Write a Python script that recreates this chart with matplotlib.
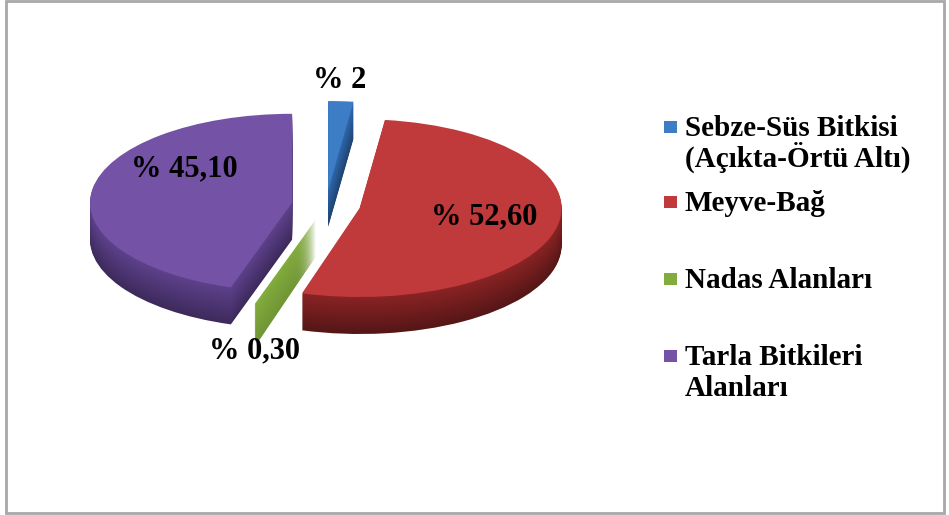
import numpy as np
import matplotlib
matplotlib.use('Agg')
import matplotlib.pyplot as plt
from matplotlib.patches import Rectangle
import matplotlib.colors as mcolors

# ---- data ----
categories = ['Sebze-Süs Bitkisi\n(Açıkta-Örtü Altı)', 'Meyve-Bağ',
              'Nadas Alanları', 'Tarla Bitkileri\nAlanları']
values = [2.0, 52.6, 0.3, 45.1]
value_labels = ['% 2', '% 52,60', '% 0,30', '% 45,10']

# ---- style ----
top_colors = ['#3D7DC6', '#C0393B', '#82AC3E', '#7452A5']
side_colors = ['#2F68AE', '#8A2324', '#80AA3C', '#5E418C']
side_dark = [0.35, 0.38, 0.12, 0.35]
FONT = ['Liberation Serif', 'DejaVu Serif']

W, H = 949, 515
fig = plt.figure(figsize=(W / 100, H / 100), dpi=100)
fig.patch.set_facecolor('white')

ax = fig.add_axes([0, 0, 1, 1])
k = 0.44            # tilt (vertical squash)
cx, cy_img = 326, 205
R = 202
explode = [0.17 * R] * len(values)   # pie explode is in data units
depth = 37


def shade(c, f):
    r, g, b = mcolors.to_rgb(c)
    return (r * f, g * f, b * f)


for d in range(depth, 0, -1):
    frac = d / depth
    cols = [shade(c, 1.0 - s * frac) for c, s in zip(side_colors, side_dark)]
    ax.pie(values, radius=R, center=(cx, (H - cy_img - d) / k),
           explode=explode, colors=cols, startangle=90, counterclock=False,
           wedgeprops=dict(linewidth=0), frame=False)

ax.pie(values, radius=R, center=(cx, (H - cy_img) / k),
       explode=explode, colors=top_colors, startangle=90, counterclock=False,
       wedgeprops=dict(linewidth=0), frame=False)

ax.set_aspect('auto')
ax.set_xlim(0, W)
ax.set_ylim(0, H / k)
ax.axis('off')

# overlay in pixel coordinates for labels / legend / border
ov = fig.add_axes([0, 0, 1, 1])
ov.set_xlim(0, W)
ov.set_ylim(H, 0)
ov.axis('off')
ov.patch.set_alpha(0)

label_pos = [(340, 80), (484, 217), (255, 351), (184, 169)]
for txt, (x, y) in zip(value_labels, label_pos):
    ov.text(x, y, txt, ha='center', va='center', fontsize=22,
            fontweight='bold', family=FONT, color='black')

# legend
leg_baselines = [136, 211, 288, 365]
line_step = 31
for cat, col, yb in zip(categories, top_colors, leg_baselines):
    ov.add_patch(Rectangle((664, yb - 15), 13, 12, facecolor=col,
                           edgecolor='none'))
    for i, line in enumerate(cat.split('\n')):
        ov.text(685, yb + i * line_step, line, ha='left', va='baseline',
                fontsize=21, fontweight='bold', family=FONT, color='black')

# outer border
ov.add_patch(Rectangle((6, 1), 938, 512, facecolor='none',
                       edgecolor='#A8A8A8', linewidth=2))

fig.savefig('out.png', dpi=100)
